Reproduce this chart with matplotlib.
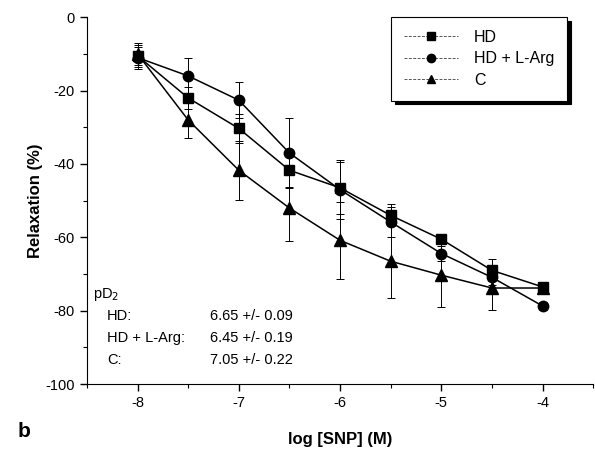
import numpy as np
import matplotlib
matplotlib.use('Agg')
import matplotlib.pyplot as plt
from matplotlib.ticker import MultipleLocator
from matplotlib.lines import Line2D

plt.rcParams['font.family'] = ['Liberation Sans', 'DejaVu Sans']
plt.rcParams['axes.unicode_minus'] = False

log_snp = [-8, -7.5, -7, -6.5, -6, -5.5, -5, -4.5, -4]

hd = [-10.5, -22, -30.3, -41.7, -46.5, -54, -60.5, -69, -73.5]
hd_err = [3, 3, 4, 4.5, 7, 3, 1, 3, 1]

hd_larg = [-11, -16, -22.6, -37, -47, -55.8, -64.4, -70.9, -78.7]
hd_larg_err = [3, 5, 5, 9.5, 8, 4, 2, 2, 1]

ctrl = [-10, -28, -41.7, -52, -60.8, -66.5, -70.3, -73.8, -73.8]
ctrl_err = [3, 5, 8, 9, 10.5, 10, 8.7, 6, 1]

pd2_names = ['HD:', 'HD + L-Arg:', 'C:']
pd2_values = ['6.65 +/- 0.09', '6.45 +/- 0.19', '7.05 +/- 0.22']

fig = plt.figure(figsize=(5.95, 4.53), dpi=100)
ax = fig.add_axes([0.146, 0.152, 0.851, 0.81])

series = [
    (hd, hd_err, 's', 6.5, 'HD'),
    (hd_larg, hd_larg_err, 'o', 7.5, 'HD + L-Arg'),
    (ctrl, ctrl_err, '^', 8, 'C'),
]
handles = []
for vals, err, mk, ms, lab in series:
    ax.errorbar(log_snp, vals, yerr=err, fmt='-', marker=mk, ms=ms, color='black',
                lw=1.1, elinewidth=0.7, capsize=3, capthick=0.7)
    handles.append(Line2D([], [], color='#555555', lw=0.7, ls=(0, (3, 1.5)),
                          marker=mk, ms=ms * 0.8, mfc='black', mec='black', label=lab))

ax.set_xlim(-8.5, -3.5)
ax.set_ylim(-100, 0)
ax.xaxis.set_major_locator(MultipleLocator(1))
ax.xaxis.set_minor_locator(MultipleLocator(0.5))
ax.yaxis.set_major_locator(MultipleLocator(20))
ax.yaxis.set_minor_locator(MultipleLocator(10))
ax.tick_params(which='major', direction='out', length=5, width=1, labelsize=10.5)
ax.tick_params(which='minor', direction='out', length=3, width=0.8)
ax.spines['top'].set_visible(False)
ax.spines['right'].set_visible(False)

ax.set_xlabel('log [SNP] (M)', fontsize=12, fontweight='bold', labelpad=16)
ax.set_ylabel('Relaxation (%)', fontsize=12, fontweight='bold', labelpad=2)

leg = ax.legend(handles=handles, loc='upper right', bbox_to_anchor=(0.949, 1.0),
                borderaxespad=0, fancybox=False, edgecolor='black', fontsize=11.5,
                handlelength=3.4, handletextpad=1.0,
                shadow={'color': 'black', 'alpha': 1, 'ox': 2.5, 'oy': -2.5},
                borderpad=0.8, labelspacing=0.4)
leg.get_frame().set_linewidth(0.8)

ax.text(0.012, 0.245, 'pD$_2$', transform=ax.transAxes, fontsize=10.5, va='center')
for i, (n, v) in enumerate(zip(pd2_names, pd2_values)):
    y = 0.185 - i * 0.06
    ax.text(0.04, y, n, transform=ax.transAxes, fontsize=10.5, va='center')
    ax.text(0.243, y, v, transform=ax.transAxes, fontsize=10.5, va='center')

fig.text(0.03, 0.035, 'b', fontsize=15, fontweight='bold')

fig.savefig('out.png', dpi=100)
